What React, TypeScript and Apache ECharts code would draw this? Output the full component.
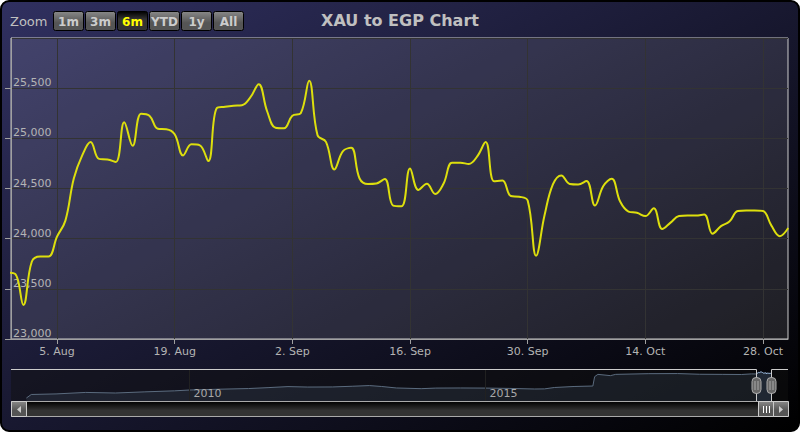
import React, { useEffect, useRef } from 'react';
import * as echarts from 'echarts';

const TITLE = 'XAU to EGP Chart';
const FONT = 'DejaVu Sans';
const MONTHS = ['Jan', 'Feb', 'Mar', 'Apr', 'May', 'Jun', 'Jul', 'Aug', 'Sep', 'Oct', 'Nov', 'Dec'];

// Main series: daily closes starting on START_DATE
const START_DATE = '2019-07-30';
const PRICES = [
  23660, 23650, 23340, 23770, 23823, 23823, 24020, 24180, 24600, 24830,
  24963, 24795, 24790, 24765, 25160, 24925, 25245, 25225, 25095, 25090,
  25040, 24830, 24940, 24930, 24773, 25300, 25315, 25325, 25330, 25407,
  25540, 25270, 25105, 25100, 25225, 25250, 25573, 25030, 24965, 24690,
  24870, 24905, 24600, 24545, 24550, 24595, 24330, 24323, 24700, 24485,
  24547, 24445, 24550, 24757, 24757, 24745, 24820, 24963, 24573, 24580,
  24425, 24418, 24380, 23830, 24230, 24540, 24630, 24545, 24540, 24575,
  24330, 24525, 24597, 24370, 24270, 24258, 24225, 24303, 24097, 24160,
  24225, 24230, 24230, 24240, 24050, 24125, 24170, 24275, 24280, 24280,
  24275, 24130, 24025, 24107,
];

// Visible range of the main chart
const VIEW_FROM = '2019-07-30T12:40:00Z';
const VIEW_TO = '2019-10-30T23:20:00Z';

const X_TICKS = ['2019-08-05', '2019-08-19', '2019-09-02', '2019-09-16', '2019-09-30', '2019-10-14', '2019-10-28'];
const Y_MIN = 23000;
const Y_MAX = 26000;
const Y_STEP = 500;

// Navigator history (before the main daily series)
const NAV_DATES = [
  '2007-04-01', '2007-05-01', '2007-10-01', '2008-04-01', '2008-10-01', '2009-04-01', '2009-10-01',
  '2010-01-01', '2010-07-01', '2011-01-01', '2011-05-01', '2011-09-01', '2012-01-01', '2012-06-01',
  '2012-10-01', '2013-01-15', '2013-04-01', '2013-07-01', '2013-12-01', '2014-03-01', '2014-08-01',
  '2015-01-01', '2015-06-01', '2015-11-01', '2016-01-01', '2016-03-01', '2016-07-01', '2016-10-25',
  '2016-11-05', '2016-11-25', '2017-02-10', '2017-03-15', '2017-10-01', '2018-04-01', '2018-08-15',
  '2019-01-01', '2019-05-01', '2019-07-01',
];
const NAV_VALUES = [
  2600, 5700, 6200, 7500, 7000, 8000, 8900,
  9600, 10300, 10900, 11700, 12600, 12200, 12300,
  12900, 13500, 12700, 11400, 10800, 11300, 11400,
  11300, 11000, 10500, 10600, 11800, 12700, 13100,
  21300, 23300, 22200, 23300, 23900, 24000, 23400,
  23300, 23200, 23700,
];
const NAV_FROM = '2006-12-27';
const NAV_TO = '2020-02-11';
const NAV_TICKS = ['2010-01-01', '2015-01-01'];
const NAV_Y_MAX = 28000;

const BUTTONS = ['1m', '3m', '6m', 'YTD', '1y', 'All'];
const SELECTED_BUTTON = '6m';

const DAY = 86400000;

export default function App() {
  const ref = useRef<HTMLDivElement>(null);

  useEffect(() => {
    if (!ref.current) return;
    const chart = echarts.init(ref.current, undefined, { renderer: 'svg' });

    const t0 = Date.parse(START_DATE);
    const mainData = PRICES.map((v, i) => [t0 + i * DAY, v]);
    const navData = NAV_DATES.map((d, i) => [Date.parse(d), NAV_VALUES[i]]).concat(mainData);
    const xTicks = X_TICKS.map((d) => Date.parse(d));
    const navTicks = NAV_TICKS.map((d) => Date.parse(d));
    const viewFrom = Date.parse(VIEW_FROM);
    const viewTo = Date.parse(VIEW_TO);

    const grayGrad = (a: string, b: string, stop: number) =>
      new echarts.graphic.LinearGradient(0, 0, 0, 1, [
        { offset: 0, color: a },
        { offset: stop, color: b },
        { offset: 1, color: b },
      ]);

    const staticGraphics: any[] = [
      {
        id: 'bg',
        type: 'rect',
        z: -10,
        shape: { x: 1, y: 1, width: 798, height: 430, r: 8 },
        style: {
          fill: new echarts.graphic.LinearGradient(0, 0, 1, 1, [
            { offset: 0, color: 'rgb(48,48,96)' },
            { offset: 1, color: 'rgb(0,0,0)' },
          ]),
          stroke: '#000000',
          lineWidth: 2,
        },
      },
      {
        id: 'zoomLabel',
        type: 'text',
        z: 20,
        x: 10,
        y: 21.5,
        style: { text: 'Zoom', fill: '#C0C0C0', font: `13px "${FONT}"`, verticalAlign: 'middle' },
      },
    ];
    BUTTONS.forEach((b, i) => {
      const sel = b === SELECTED_BUTTON;
      const x = 53 + 32 * i;
      staticGraphics.push({
        id: 'btn' + i,
        type: 'rect',
        z: 20,
        shape: { x: x + 0.5, y: 11.5, width: 30, height: 19, r: 2 },
        style: {
          fill: sel ? grayGrad('#000', '#333', 0.4) : grayGrad('#888', '#555', 0.6),
          stroke: '#000',
          lineWidth: 1,
        },
      });
      staticGraphics.push({
        id: 'btnText' + i,
        type: 'text',
        z: 21,
        x: x + 15.5,
        y: 21.5,
        style: {
          text: b,
          fill: sel ? '#FFFF00' : '#CCCCCC',
          font: `bold 12px "${FONT}"`,
          align: 'center',
          verticalAlign: 'middle',
        },
      });
    });

    const option: any = {
      animation: false,
      backgroundColor: 'transparent',
      textStyle: { fontFamily: FONT },
      title: {
        text: TITLE,
        left: 'center',
        top: 12,
        padding: 0,
        textStyle: { color: '#C0C0C0', fontSize: 16, fontWeight: 'bold', fontFamily: FONT },
      },
      grid: [
        {
          left: 11,
          right: 12,
          top: 38,
          bottom: 93,
          show: true,
          backgroundColor: 'rgba(255,255,255,0.1)',
          borderColor: '#CCCCCC',
          borderWidth: 1,
        },
        { left: 11, right: 12, top: 369, height: 32, show: false },
      ],
      xAxis: [
        {
          type: 'value',
          gridIndex: 0,
          min: viewFrom,
          max: viewTo,
          axisLine: { show: true, lineStyle: { color: '#A0A0A0' } },
          axisTick: { show: true, length: 5, customValues: xTicks, lineStyle: { color: '#A0A0A0' } },
          axisLabel: {
            customValues: xTicks,
            color: '#B4B4B4',
            fontSize: 11,
            fontFamily: FONT,
            margin: 7,
            hideOverlap: false,
            formatter: (v: number) => {
              const d = new Date(v);
              return `${d.getUTCDate()}. ${MONTHS[d.getUTCMonth()]}`;
            },
          },
          splitLine: { show: false },
        },
        {
          type: 'value',
          gridIndex: 1,
          z: 30,
          min: Date.parse(NAV_FROM),
          max: Date.parse(NAV_TO),
          axisLine: { show: false },
          axisTick: { show: false },
          axisLabel: {
            inside: true,
            customValues: navTicks,
            color: '#A8A8A8',
            fontSize: 11,
            fontFamily: FONT,
            align: 'left',
            verticalAlign: 'bottom',
            margin: 2,
            padding: [0, 0, 0, 4],
            hideOverlap: false,
            formatter: (v: number) => String(new Date(v).getUTCFullYear()),
          },
          splitLine: { show: false },
        },
      ],
      yAxis: [
        {
          type: 'value',
          gridIndex: 0,
          min: Y_MIN,
          max: Y_MAX,
          interval: Y_STEP,
          axisLine: { show: true, lineStyle: { color: '#A0A0A0' } },
          axisTick: { show: true, length: 6, lineStyle: { color: '#A0A0A0' } },
          axisLabel: {
            inside: true,
            align: 'left',
            verticalAlign: 'bottom',
            margin: 2,
            color: '#B4B4B4',
            fontSize: 11,
            fontFamily: FONT,
            showMaxLabel: false,
            formatter: (v: number) => v.toLocaleString('en-US'),
          },
          splitLine: { show: true, lineStyle: { color: '#333333', width: 1 } },
        },
        { type: 'value', gridIndex: 1, min: 0, max: NAV_Y_MAX, show: false },
      ],
      series: [
        {
          type: 'line',
          xAxisIndex: 0,
          yAxisIndex: 0,
          data: mainData,
          smooth: 0.4,
          showSymbol: false,
          clip: true,
          lineStyle: { color: '#DDDF0D', width: 2 },
          z: 5,
          markLine: {
            silent: true,
            symbol: 'none',
            label: { show: false },
            lineStyle: { color: '#333333', type: 'solid', width: 1 },
            data: xTicks.map((t) => ({ xAxis: t })),
            z: 1,
          },
        },
        {
          type: 'line',
          xAxisIndex: 1,
          yAxisIndex: 1,
          data: navData,
          showSymbol: false,
          lineStyle: { color: '#A6C7ED', width: 1 },
          areaStyle: { color: 'rgba(119,152,191,0.35)' },
          markLine: {
            silent: true,
            symbol: 'none',
            label: { show: false },
            lineStyle: { color: '#333333', type: 'solid', width: 1 },
            data: navTicks.map((t) => ({ xAxis: t })),
          },
        },
      ],
      graphic: staticGraphics,
    };

    chart.setOption(option);

    const navL = chart.convertToPixel({ xAxisIndex: 1 } as any, viewFrom) as number;
    const navR = chart.convertToPixel({ xAxisIndex: 1 } as any, viewTo) as number;
    const gl = 11;
    const gr = 788;
    const top = 369;
    const bot = 401;

    const dyn: any[] = [
      { id: 'maskL', type: 'rect', z: 10, shape: { x: gl, y: top, width: navL - gl, height: bot - top }, style: { fill: 'rgba(16,16,16,0.5)' } },
      { id: 'maskR', type: 'rect', z: 10, shape: { x: navR, y: top, width: gr - navR, height: bot - top }, style: { fill: 'rgba(16,16,16,0.5)' } },
      {
        id: 'outline',
        type: 'polyline',
        z: 11,
        shape: {
          points: [
            [gl, top + 0.5], [Math.round(navL) + 0.5, top + 0.5], [Math.round(navL) + 0.5, bot + 0.5],
            [Math.round(navR) + 0.5, bot + 0.5], [Math.round(navR) + 0.5, top + 0.5], [gr, top + 0.5],
          ],
        },
        style: { stroke: '#CCCCCC', lineWidth: 1, fill: null },
      },
      {
        id: 'track',
        type: 'rect',
        z: 11,
        shape: { x: gl + 0.5, y: bot + 0.5, width: gr - gl - 1, height: 15 },
        style: { fill: grayGrad('#000', '#333', 0.6), stroke: '#AAAAAA', lineWidth: 1 },
      },
    ];
    const thumbL = Math.round(navL) + 2;
    const thumbR = Math.min(Math.round(navR) + 2, gr - 15);
    dyn.push({
      id: 'thumb',
      type: 'rect',
      z: 12,
      shape: { x: thumbL + 0.5, y: bot + 0.5, width: thumbR - thumbL, height: 15 },
      style: { fill: grayGrad('#888', '#555', 0.6), stroke: '#CCCCCC', lineWidth: 1 },
    });
    const cx = Math.round((thumbL + thumbR) / 2) + 0.5;
    [-3, 0, 3].forEach((o, i) =>
      dyn.push({
        id: 'rifle' + i,
        type: 'line',
        z: 13,
        shape: { x1: cx + o, y1: bot + 5, x2: cx + o, y2: bot + 12 },
        style: { stroke: '#FFFFFF', lineWidth: 1 },
      }),
    );
    [gl, gr - 15].forEach((bx, i) => {
      dyn.push({
        id: 'sbtn' + i,
        type: 'rect',
        z: 12,
        shape: { x: bx + 0.5, y: bot + 0.5, width: 15, height: 15 },
        style: { fill: grayGrad('#888', '#555', 0.6), stroke: '#CCCCCC', lineWidth: 1 },
      });
      const mid = bx + 8;
      dyn.push({
        id: 'sarrow' + i,
        type: 'polygon',
        z: 13,
        shape: {
          points: i === 0
            ? [[mid + 2, bot + 5], [mid + 2, bot + 12], [mid - 2, bot + 8.5]]
            : [[mid - 2, bot + 5], [mid - 2, bot + 12], [mid + 2, bot + 8.5]],
        },
        style: { fill: '#CCCCCC' },
      });
    });
    [navL, navR].forEach((h, i) => {
      const hx = Math.round(h) + 0.5;
      dyn.push({
        id: 'handle' + i,
        type: 'rect',
        z: 14,
        shape: { x: hx - 4.5, y: 377.5, width: 9, height: 16, r: 4 },
        style: { fill: '#666666', stroke: '#AAAAAA', lineWidth: 1 },
      });
      [-1.5, 1.5].forEach((o, j) =>
        dyn.push({
          id: `hl${i}${j}`,
          type: 'line',
          z: 15,
          shape: { x1: hx + o, y1: 381, x2: hx + o, y2: 390 },
          style: { stroke: '#AAAAAA', lineWidth: 1 },
        }),
      );
    });

    chart.setOption({ graphic: staticGraphics.concat(dyn) });

    return () => chart.dispose();
  }, []);

  return (
    <div
      ref={ref}
      style={{ position: 'absolute', left: 0, top: 0, width: 800, height: 432 }}
    />
  );
}
